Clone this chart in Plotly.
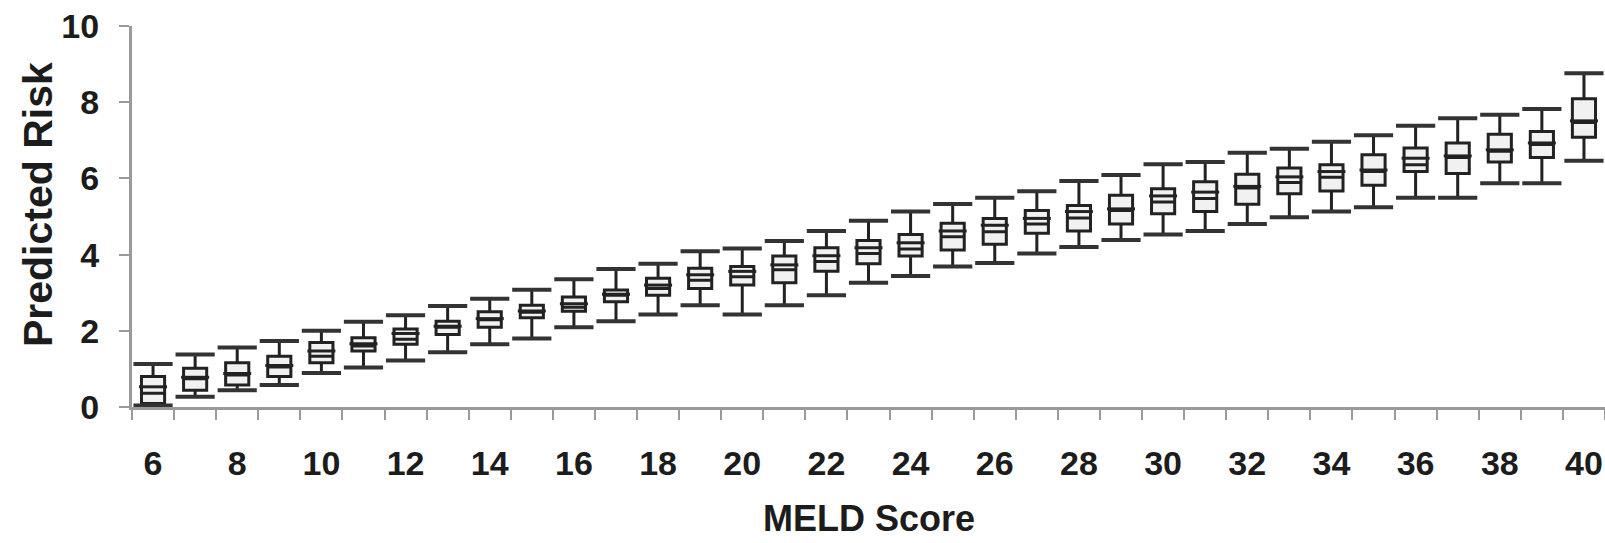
import plotly.graph_objects as go

# MELD score categories
meld = list(range(6, 41))

# Box-plot summaries of predicted risk for each MELD score
lower = [0.04, 0.27, 0.44, 0.58, 0.89, 1.04, 1.22, 1.44, 1.65, 1.80, 2.09, 2.25,
         2.43, 2.67, 2.43, 2.67, 2.93, 3.26, 3.44, 3.69, 3.78, 4.03, 4.20, 4.38,
         4.53, 4.62, 4.80, 4.98, 5.13, 5.24, 5.49, 5.49, 5.87, 5.87, 6.46]
q1 = [0.09, 0.44, 0.58, 0.80, 1.16, 1.47, 1.65, 1.90, 2.09, 2.34, 2.51, 2.76,
      2.93, 3.11, 3.20, 3.26, 3.56, 3.76, 3.96, 4.12, 4.27, 4.56, 4.62, 4.80,
      5.07, 5.13, 5.32, 5.60, 5.67, 5.82, 6.18, 6.13, 6.43, 6.55, 7.08]
median = [0.36, 0.74, 0.84, 1.05, 1.33, 1.60, 1.78, 2.09, 2.29, 2.49, 2.62, 2.93,
          3.11, 3.33, 3.42, 3.60, 3.82, 4.03, 4.15, 4.47, 4.60, 4.80, 4.96, 5.16,
          5.38, 5.47, 5.75, 5.89, 6.03, 6.18, 6.36, 6.55, 6.71, 6.89, 7.47]
mean = [0.53, 0.78, 0.88, 1.09, 1.47, 1.66, 1.93, 2.12, 2.32, 2.52, 2.71, 2.96,
        3.20, 3.47, 3.56, 3.73, 3.97, 4.18, 4.31, 4.62, 4.77, 4.95, 5.13, 5.20,
        5.54, 5.64, 5.79, 6.04, 6.18, 6.22, 6.53, 6.59, 6.75, 6.93, 7.51]
q3 = [0.80, 1.02, 1.16, 1.33, 1.69, 1.82, 2.05, 2.25, 2.50, 2.67, 2.89, 3.07,
      3.38, 3.64, 3.69, 3.96, 4.18, 4.37, 4.53, 4.82, 4.95, 5.16, 5.29, 5.56,
      5.73, 5.91, 6.11, 6.27, 6.36, 6.62, 6.80, 6.93, 7.16, 7.23, 8.09]
upper = [1.13, 1.38, 1.56, 1.73, 2.00, 2.24, 2.41, 2.65, 2.84, 3.08, 3.35, 3.62,
         3.76, 4.09, 4.16, 4.36, 4.62, 4.89, 5.13, 5.33, 5.49, 5.66, 5.93, 6.09,
         6.37, 6.43, 6.67, 6.78, 6.96, 7.13, 7.38, 7.58, 7.67, 7.82, 8.76]

x_labels = [str(v) for v in range(6, 41, 2)]
y_ticks = [0, 2, 4, 6, 8, 10]

FONT = "Liberation Sans"
AXIS_GREY = "#9a9a9a"
INK = "#1c1c1c"

fig = go.Figure()

# boxes, medians and whisker stems
fig.add_trace(go.Box(
    x=meld, q1=q1, median=median, q3=q3,
    lowerfence=lower, upperfence=upper,
    width=0.55, whiskerwidth=0,
    line=dict(color="#222222", width=3),
    fillcolor="#f1f1f1",
    boxpoints=False, hoverinfo="skip",
))

# second line inside each box (mean)
fig.add_trace(go.Scatter(
    x=meld, y=mean, mode="markers", hoverinfo="skip",
    marker=dict(symbol="line-ew", size=20, color="#222222",
                line=dict(color="#222222", width=3)),
))

# whisker caps
fig.add_trace(go.Scatter(
    x=meld + meld, y=lower + upper, mode="markers", hoverinfo="skip",
    marker=dict(symbol="line-ew", size=28, color="#333333",
                line=dict(color="#333333", width=4)),
))

fig.update_layout(
    width=1605, height=543,
    margin=dict(l=132, r=0, t=26, b=136),
    paper_bgcolor="white", plot_bgcolor="white",
    showlegend=False,
    font=dict(family=FONT, color=INK),
    annotations=[
        dict(text="MELD Score", xref="paper", yref="paper",
             x=0.5, y=-0.3517, xanchor="center", yanchor="bottom",
             showarrow=False,
             font=dict(family=FONT, size=36, weight="bold", color=INK)),
        dict(text="Predicted Risk", xref="paper", yref="paper",
             x=-0.0638, y=0.53, xanchor="center", yanchor="middle",
             textangle=-90, showarrow=False,
             font=dict(family=FONT, size=41, weight="bold", color=INK)),
    ],
)

fig.update_xaxes(
    range=[5.5, 40.5], automargin=False,
    tickmode="array", tickvals=list(range(6, 41, 2)), ticktext=x_labels,
    ticks="outside", ticklen=24, tickcolor="rgba(0,0,0,0)",
    tickfont=dict(family=FONT, size=34, weight="bold", color=INK),
    minor=dict(ticks="outside", tick0=5.5, dtick=1, ticklen=10,
               tickwidth=2, tickcolor=AXIS_GREY),
    showline=True, linecolor=AXIS_GREY, linewidth=3,
    showgrid=False, zeroline=False,
)

fig.update_yaxes(
    range=[0, 10], automargin=False,
    tickmode="array", tickvals=y_ticks,
    ticks="outside", ticklen=10, tickwidth=2, tickcolor=AXIS_GREY,
    ticklabelstandoff=13,
    tickfont=dict(family=FONT, size=34, weight="bold", color=INK),
    showline=True, linecolor=AXIS_GREY, linewidth=3,
    showgrid=False, zeroline=False,
)

fig.write_html("out.html")
